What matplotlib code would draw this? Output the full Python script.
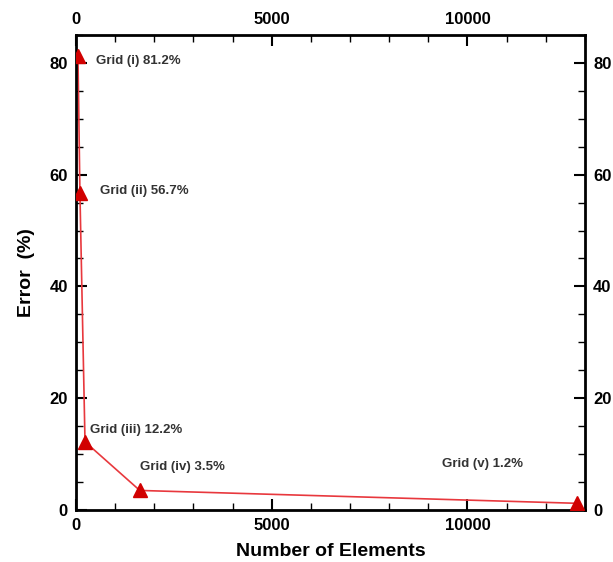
import matplotlib
matplotlib.use('Agg')
import matplotlib.pyplot as plt
from matplotlib.ticker import MultipleLocator

elements = [50, 100, 230, 1630, 12800]
error = [81.2, 56.7, 12.2, 3.5, 1.2]
labels = ['Grid (i) 81.2%', 'Grid (ii) 56.7%', 'Grid (iii) 12.2%',
          'Grid (iv) 3.5%', 'Grid (v) 1.2%']
offsets = [(18, -5), (20, 2), (5, 12), (0, 23), (-135, 39)]

plt.rcParams['font.family'] = ['Liberation Sans', 'DejaVu Sans']

fig = plt.figure(figsize=(6.13, 5.62), dpi=100)
ax = fig.add_axes([0.124, 0.0925, 0.83, 0.8455])
ax.plot(elements, error, c='#e8383d', lw=1.2, zorder=2)
ax.plot(elements, error, ls='none', marker='^', ms=10, c='#d10000', zorder=3)

for x, y, t, off in zip(elements, error, labels, offsets):
    ax.annotate(t, (x, y), textcoords='offset pixels', xytext=off,
                fontsize=9.5, fontweight='bold', color='#333333',
                va='center', ha='left')

ax.set_xlim(0, 13000)
ax.set_ylim(0, 85)
ax.xaxis.set_major_locator(MultipleLocator(5000))
ax.xaxis.set_minor_locator(MultipleLocator(1000))
ax.yaxis.set_major_locator(MultipleLocator(20))
ax.yaxis.set_minor_locator(MultipleLocator(5))
ax.tick_params(which='both', direction='in', top=True, right=True,
               labeltop=True, labelright=True, labelsize=12, width=1.5)
ax.tick_params(which='major', length=8, pad=6)
ax.tick_params(which='minor', length=5, width=1)
for lbl in ax.xaxis.get_ticklabels(which='major') + ax.yaxis.get_ticklabels(which='major'):
    lbl.set_fontweight('bold')
for s in ax.spines.values():
    s.set_linewidth(2)

ax.set_xlabel('Number of Elements', fontsize=14, fontweight='bold', labelpad=7)
ax.set_ylabel('Error  (%)', fontsize=14, fontweight='bold', labelpad=10)

fig.savefig('out.png', dpi=100)
